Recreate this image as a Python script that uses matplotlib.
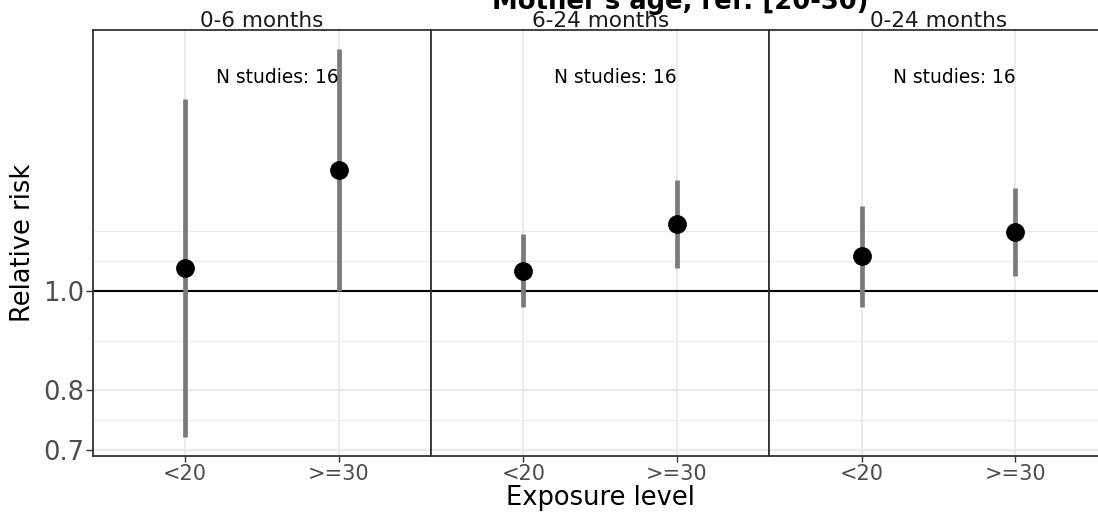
import matplotlib
matplotlib.use('Agg')
import matplotlib.pyplot as plt
import matplotlib.transforms as mtransforms

# ---- data ----
PERIODS = ['0-6 months', '6-24 months', '0-24 months']
LEVELS = ['<20', '>=30']
RR = [[1.052, 1.310], [1.046, 1.162], [1.081, 1.141]]
LOWER = [[0.720, 1.000], [0.965, 1.053], [0.965, 1.034]]
UPPER = [[1.536, 1.718], [1.135, 1.282], [1.210, 1.259]]
N_STUDIES = [16, 16, 16]
Y_TICKS = [0.7, 0.8, 1.0]
Y_GRID_MINOR = [0.748, 0.894, 1.07, 1.143]
TITLE = "Mother's age, ref: [20-30)"

W, H = 1098, 519
PANEL_LEFT, PANEL_W = 92.7, 338.3
PANEL_TOP, PANEL_BOTTOM = 30, 456
BORDER = '#333333'
GRID = '#ebebeb'


def main():
    fig = plt.figure(figsize=(W / 100, H / 100), dpi=100)
    fig.patch.set_facecolor('white')

    for i, period in enumerate(PERIODS):
        left = (PANEL_LEFT + i * PANEL_W) / W
        ax = fig.add_axes([left, 1 - PANEL_BOTTOM / H, PANEL_W / W,
                           (PANEL_BOTTOM - PANEL_TOP) / H])
        ax.set_yscale('log')
        ax.set_ylim(0.6903, 1.794)
        ax.set_xlim(0.4, 2.6)
        xs = list(range(1, len(LEVELS) + 1))

        for y in Y_TICKS:
            ax.axhline(y, color=GRID, lw=1.6, zorder=0)
        for y in Y_GRID_MINOR:
            ax.axhline(y, color=GRID, lw=0.9, zorder=0)
        for x in xs:
            ax.axvline(x, color=GRID, lw=1.5, zorder=0)

        ax.axhline(1.0, color='black', lw=1.5, zorder=2)
        ax.vlines(xs, LOWER[i], UPPER[i], color='#7a7a7a', lw=3.4, zorder=3)
        ax.plot(xs, RR[i], 'o', color='black', ms=12.5, zorder=4)

        tr = mtransforms.blended_transform_factory(ax.transData, ax.transAxes)
        ax.text(2, 0.876, 'N studies: %d' % N_STUDIES[i], transform=tr,
                ha='right', va='baseline', fontsize=13.4, color='black')

        ax.set_xticks(xs)
        ax.set_xticklabels(LEVELS)
        ax.tick_params(axis='x', labelsize=15, labelcolor='#4d4d4d',
                       color=BORDER, length=4.5, width=1, pad=1.5)
        ax.yaxis.set_minor_locator(matplotlib.ticker.NullLocator())
        if i == 0:
            ax.set_yticks(Y_TICKS)
            ax.set_yticklabels(['%.1f' % v for v in Y_TICKS])
            ax.tick_params(axis='y', labelsize=18.5, labelcolor='#4d4d4d',
                           color=BORDER, length=5, width=1, pad=1)
        else:
            ax.set_yticks([])
        for sp in ax.spines.values():
            sp.set_color(BORDER)
            sp.set_linewidth(1.3)
            sp.set_zorder(5)

        fig.text((PANEL_LEFT + (i + 0.5) * PANEL_W) / W, 1 - 26.7 / H, period,
                 ha='center', va='baseline', fontsize=15.5, color='#1a1a1a')

    fig.text(680 / W, 1 - 9 / H, TITLE, ha='center', va='baseline',
             fontsize=18.6, fontweight='bold')
    fig.text((PANEL_LEFT + 1.5 * PANEL_W) / W, 1 - 505 / H, 'Exposure level',
             ha='center', va='baseline', fontsize=18.5)
    fig.text(23 / W, 1 - 243 / H, 'Relative risk', rotation=90,
             ha='center', va='center', fontsize=18.5)

    fig.savefig('out.png', dpi=100)


if __name__ == '__main__':
    main()
